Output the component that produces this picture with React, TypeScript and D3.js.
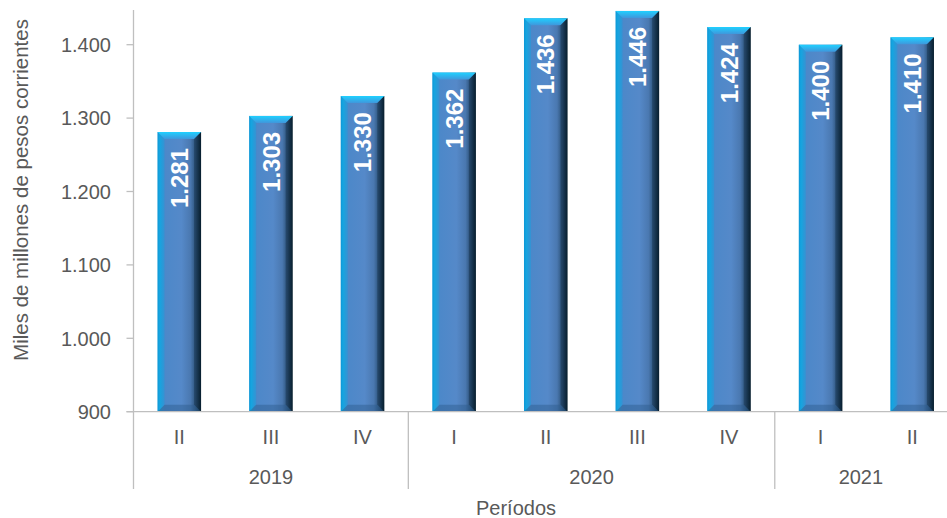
import * as d3 from "d3";
import { useRef, useEffect } from "react";

const quarters = ["II", "III", "IV", "I", "II", "III", "IV", "I", "II"];
const years = ["2019", "2019", "2019", "2020", "2020", "2020", "2020", "2021", "2021"];
const values = [1281, 1303, 1330, 1362, 1436, 1446, 1424, 1400, 1410];
const yTicks = [900, 1000, 1100, 1200, 1300, 1400];

const W = 947;
const H = 518;

const esLocale = d3.formatLocale({ decimal: ",", thousands: ".", grouping: [3], currency: ["$", ""] });
const fmt = esLocale.format(",d");

export default function App() {
  const svgRef = useRef<SVGSVGElement | null>(null);

  useEffect(() => {
    document.body.style.margin = "0";
    const svg = d3.select(svgRef.current);
    svg.selectAll("*").remove();

    const left = 133.5;
    const right = 958; // plot runs past the window edge, like the original
    const top = 8;
    const bottom = 411.7;
    const axisGrey = "#bfbfbf";
    const textGrey = "#595959";
    const font = "'Liberation Sans', Arial, sans-serif";

    const keys = quarters.map((q, i) => `${years[i]}-${q}`);
    const x = d3.scaleBand<string>().domain(keys).range([left, right]).paddingInner(0.525).paddingOuter(0.2625);
    const y = d3.scaleLinear().domain([900, 1450]).range([bottom, top]);

    const defs = svg.append("defs");
    const body = defs.append("linearGradient").attr("id", "barBody").attr("x1", 0).attr("x2", 1).attr("y1", 0).attr("y2", 0);
    [
      [0, "#0b8fcf"],
      [0.05, "#1aa4dd"],
      [0.16, "#4c88c9"],
      [0.55, "#5589c9"],
      [0.76, "#4a78b0"],
      [0.88, "#2b5177"],
      [1, "#08202f"],
    ].forEach(([o, c]) => body.append("stop").attr("offset", o as number).attr("stop-color", c as string));

    const cap = defs.append("linearGradient").attr("id", "barCap").attr("x1", 0).attr("x2", 0).attr("y1", 0).attr("y2", 1);
    cap.append("stop").attr("offset", 0).attr("stop-color", "#1fd0ff");
    cap.append("stop").attr("offset", 1).attr("stop-color", "#3f97dc");

    // y axis
    const gy = svg.append("g").attr("font-family", font).attr("font-size", 20).attr("fill", textGrey);
    gy.append("line")
      .attr("x1", left).attr("x2", left)
      .attr("y1", top + 2).attr("y2", 489)
      .attr("stroke", axisGrey).attr("stroke-width", 1.3);
    yTicks.forEach(t => {
      gy.append("line")
        .attr("x1", left - 7).attr("x2", left)
        .attr("y1", y(t)).attr("y2", y(t))
        .attr("stroke", axisGrey).attr("stroke-width", 1.3);
      gy.append("text")
        .attr("x", 111).attr("y", y(t)).attr("dy", "0.36em")
        .attr("text-anchor", "end")
        .text(fmt(t));
    });

    svg.append("text")
      .attr("transform", `translate(28,190) rotate(-90)`)
      .attr("text-anchor", "middle")
      .attr("font-family", font).attr("font-size", 20.5).attr("fill", textGrey)
      .text("Miles de millones de pesos corrientes");

    // bars
    const bw = x.bandwidth();
    const b = 7;
    const bars = svg.append("g");
    values.forEach((v, i) => {
      const x0 = x(keys[i])!;
      const x1 = x0 + bw;
      const yt = y(v);
      const g = bars.append("g");
      g.append("rect").attr("x", x0).attr("y", yt).attr("width", bw).attr("height", bottom - yt).attr("fill", "url(#barBody)");
      g.append("polygon")
        .attr("points", `${x0},${yt} ${x1},${yt} ${x1 - b},${yt + b} ${x0 + b},${yt + b}`)
        .attr("fill", "url(#barCap)");
      g.append("polygon")
        .attr("points", `${x0},${yt} ${x0 + b},${yt + b} ${x0 + b},${bottom - b} ${x0},${bottom}`)
        .attr("fill", "#0fa6e6").attr("opacity", 0.35);
      g.append("polygon")
        .attr("points", `${x1},${yt} ${x1 - b},${yt + b} ${x1 - b},${bottom - b} ${x1},${bottom}`)
        .attr("fill", "#06192a").attr("opacity", 0.3);
      g.append("polygon")
        .attr("points", `${x0},${bottom} ${x1},${bottom} ${x1 - b},${bottom - b} ${x0 + b},${bottom - b}`)
        .attr("fill", "#2d5a8c").attr("opacity", 0.45);
      g.append("text")
        .attr("transform", `translate(${x0 + bw / 2},${yt + 16}) rotate(-90)`)
        .attr("dy", "0.36em")
        .attr("text-anchor", "end")
        .attr("font-family", font).attr("font-size", 24).attr("font-weight", 700)
        .attr("fill", "#ffffff")
        .text(fmt(v));
    });

    // x axis
    const gx = svg.append("g").attr("font-family", font).attr("font-size", 20).attr("fill", textGrey);
    gx.append("line")
      .attr("x1", left - 7).attr("x2", right)
      .attr("y1", bottom).attr("y2", bottom)
      .attr("stroke", axisGrey).attr("stroke-width", 1.3);
    const step = x.step();
    keys.forEach((k, i) => {
      gx.append("text")
        .attr("x", x(k)! + bw / 2).attr("y", 444)
        .attr("text-anchor", "middle")
        .text(quarters[i]);
    });
    const groups = d3.groups(keys.map((k, i) => ({ k, year: years[i] })), d => d.year);
    groups.forEach(([yr, items], gi) => {
      const s = x(items[0].k)! - (step - bw) / 2;
      const e = x(items[items.length - 1].k)! + bw + (step - bw) / 2;
      if (gi > 0) {
        gx.append("line")
          .attr("x1", s).attr("x2", s)
          .attr("y1", bottom).attr("y2", 489)
          .attr("stroke", axisGrey).attr("stroke-width", 1.3);
      }
      gx.append("text")
        .attr("x", gi === groups.length - 1 ? (s + W) / 2 : (s + e) / 2).attr("y", 484)
        .attr("text-anchor", "middle")
        .text(yr);
    });

    svg.append("text")
      .attr("x", 516).attr("y", 515)
      .attr("text-anchor", "middle")
      .attr("font-family", font).attr("font-size", 20).attr("fill", textGrey)
      .text("Períodos");
  }, []);

  return <svg ref={svgRef} width={W} height={H} style={{ display: "block" }} />;
}
